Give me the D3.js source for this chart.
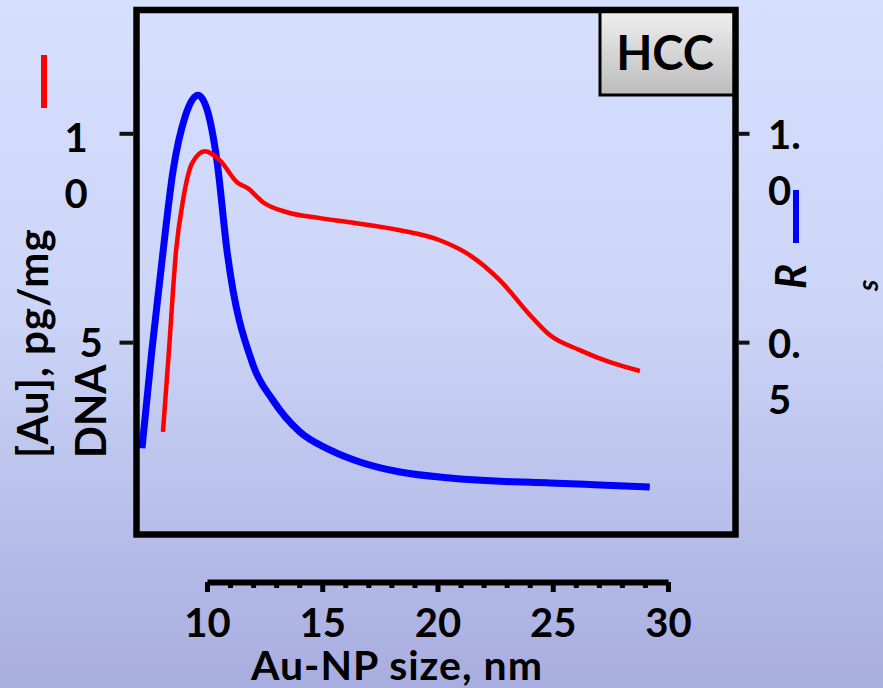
<!DOCTYPE html>
<html>
<head>
<meta charset="utf-8">
<script src="https://cdn.jsdelivr.net/npm/d3@7"></script>
<style>
  html, body { margin: 0; padding: 0; }
  body { width: 883px; height: 688px; overflow: hidden; }
  text { font-family: Lato, "Open Sans", sans-serif; font-weight: 700; fill: #000; }
</style>
</head>
<body>
<svg id="chart" width="883" height="688"></svg>
<script>
// Particle size (nm) and gold content [Au], pg/mg DNA
const auSize = [8.09, 8.35, 8.66, 8.96, 9.35, 9.91, 10.56, 11.30, 11.78, 12.43, 13.47, 14.90,
                16.20, 18.37, 20.10, 21.41, 22.71, 24.01, 24.87, 26.17, 27.48, 28.78];
const auValues = [2.85, 4.81, 7.20, 8.40, 9.28, 9.57, 9.35, 8.83, 8.68, 8.35, 8.11, 7.97,
                  7.87, 7.68, 7.44, 7.08, 6.48, 5.65, 5.17, 4.81, 4.52, 4.31];

// Particle size (nm) and ratio R_s
const rSize = [7.18, 7.61, 8.05, 8.53, 9.05, 9.61, 10.04, 10.43, 10.87, 12.00, 12.86,
               14.03, 15.33, 16.63, 18.37, 20.54, 22.71, 24.87, 27.04, 29.21];
const rValues = [0.246, 0.481, 0.696, 0.911, 1.040, 1.091, 1.050, 0.935, 0.718, 0.445, 0.361,
                 0.285, 0.242, 0.213, 0.189, 0.175, 0.167, 0.163, 0.158, 0.153];

// Axis ticks and labels
const xMajorTicks = [10, 15, 20, 25, 30];
const xMinorTicks = d3.range(10, 31, 1);
const leftTicks = [10, 5];
const leftTickLabels = ["10", "5"];
const rightTicks = [1.0, 0.5];
const rightTickLabels = ["1.0", "0.5"];

const svg = d3.select("#chart");

// background gradient
const defs = svg.append("defs");
const bg = defs.append("linearGradient").attr("id", "bg")
  .attr("x1", 0).attr("y1", 0).attr("x2", 0).attr("y2", 1);
bg.append("stop").attr("offset", "0%").attr("stop-color", "#d6dffd");
bg.append("stop").attr("offset", "45%").attr("stop-color", "#ccd5f7");
bg.append("stop").attr("offset", "100%").attr("stop-color", "#a8addf");
const boxGrad = defs.append("linearGradient").attr("id", "boxGrad")
  .attr("x1", 0).attr("y1", 0).attr("x2", 0).attr("y2", 1);
boxGrad.append("stop").attr("offset", "0%").attr("stop-color", "#f0f0f0");
boxGrad.append("stop").attr("offset", "100%").attr("stop-color", "#bcbcbc");

svg.append("rect").attr("width", 883).attr("height", 688).attr("fill", "url(#bg)");

// scales
const x = d3.scaleLinear().domain([10, 30]).range([207, 668]);
const yLeft = d3.scaleLinear().domain([0, 13]).range([551, 8]);
const yRight = d3.scaleLinear().domain([0, 1.3]).range([551, 8]);

// plot frame
const frame = { x0: 136.5, y0: 10, x1: 735.5, y1: 534.5 };

// curves
const line = d3.line().curve(d3.curveMonotoneX);
svg.append("path")
  .attr("d", line(rSize.map((s, i) => [x(s), yRight(rValues[i])])))
  .attr("fill", "none").attr("stroke", "#0000ff").attr("stroke-width", 7)
  .attr("stroke-linejoin", "round");
svg.append("path")
  .attr("d", line(auSize.map((s, i) => [x(s), yLeft(auValues[i])])))
  .attr("fill", "none").attr("stroke", "#ff0000").attr("stroke-width", 4.5)
  .attr("stroke-linejoin", "round");

// HCC label box
svg.append("rect").attr("x", 600).attr("y", frame.y0).attr("width", frame.x1 - 600).attr("height", 85)
  .attr("fill", "url(#boxGrad)").attr("stroke", "#000").attr("stroke-width", 3);
svg.append("text").attr("x", 665).attr("y", 70).attr("text-anchor", "middle")
  .style("font-size", "47px").text("HCC");

// frame border
svg.append("rect").attr("x", frame.x0).attr("y", frame.y0)
  .attr("width", frame.x1 - frame.x0).attr("height", frame.y1 - frame.y0)
  .attr("fill", "none").attr("stroke", "#000").attr("stroke-width", 6.5);

// left axis ticks
const gl = svg.append("g").attr("transform", `translate(${frame.x0 - 3},0)`)
  .call(d3.axisLeft(yLeft).tickValues(leftTicks).tickSize(14).tickFormat(""));
gl.select(".domain").remove();
gl.selectAll(".tick line").attr("stroke", "#111").attr("stroke-width", 4);

// right axis ticks
const gr = svg.append("g").attr("transform", `translate(${frame.x1 + 3},0)`)
  .call(d3.axisRight(yRight).tickValues(rightTicks).tickSize(11).tickFormat(""));
gr.select(".domain").remove();
gr.selectAll(".tick line").attr("stroke", "#111").attr("stroke-width", 4);

// tick labels wrap inside narrow text boxes
function chunk(str, n) {
  const out = [];
  for (let i = 0; i < str.length; i += n) out.push(str.slice(i, i + n));
  return out;
}
leftTicks.forEach((v, i) => {
  const lines = chunk(leftTickLabels[i], 1);
  const t = svg.append("text").attr("text-anchor", "middle").style("font-size", "40px");
  const cx = lines.length > 1 ? 76 : 91;
  const base = yLeft(v) + (lines.length > 1 ? 19 : 15);
  lines.forEach((s, j) => t.append("tspan").attr("x", cx).attr("y", base + j * 56).text(s));
});
rightTicks.forEach((v, i) => {
  const lines = chunk(rightTickLabels[i], 2);
  const t = svg.append("text").attr("text-anchor", "start").style("font-size", "40px");
  const base = yRight(v) + 16;
  lines.forEach((s, j) => t.append("tspan").attr("x", 768).attr("y", base + j * 56).text(s));
});

// bottom axis (detached below the frame)
const axisY = 582;
const gMinor = svg.append("g").attr("transform", `translate(0,${axisY})`)
  .call(d3.axisBottom(x).tickValues(xMinorTicks.filter(d => d % 5 !== 0)).tickSize(6).tickSizeOuter(0).tickFormat(""));
gMinor.select(".domain").attr("stroke", "#000").attr("stroke-width", 6);
gMinor.selectAll(".tick line").attr("stroke", "#000").attr("stroke-width", 5);
const gMajor = svg.append("g").attr("transform", `translate(0,${axisY})`)
  .call(d3.axisBottom(x).tickValues(xMajorTicks).tickSize(10).tickSizeOuter(0).tickPadding(17));
gMajor.select(".domain").remove();
gMajor.selectAll(".tick line").attr("stroke", "#000").attr("stroke-width", 5);
gMajor.selectAll(".tick text")
  .attr("fill", "#000").style("font-family", "Lato, sans-serif").style("font-weight", 700)
  .style("font-size", "40px").attr("dy", "0.71em");

// axis titles
svg.append("text").attr("x", 397).attr("y", 680).attr("text-anchor", "middle")
  .style("font-size", "41px").style("letter-spacing", "1px").text("Au-NP size, nm");

const lt = svg.append("text").attr("transform", "translate(48,458) rotate(-90)")
  .attr("text-anchor", "start").style("font-size", "42px");
lt.append("tspan").attr("x", 0).attr("y", 0).style("letter-spacing", "1px").text("[Au], pg/mg");
lt.append("tspan").attr("x", 0).attr("y", 58).text("DNA");

svg.append("text").attr("transform", "translate(806,289) rotate(-90)")
  .attr("text-anchor", "start").style("font-size", "42px").style("font-style", "italic").text("R");
svg.append("text").attr("transform", "translate(878,291) rotate(-90)")
  .attr("text-anchor", "start").style("font-size", "28px").style("font-style", "italic").text("s");

// series markers
svg.append("rect").attr("x", 41).attr("y", 55).attr("width", 6).attr("height", 53).attr("fill", "#ff0000");
svg.append("rect").attr("x", 793).attr("y", 190).attr("width", 6).attr("height", 53).attr("fill", "#0000ff");
</script>
</body>
</html>
